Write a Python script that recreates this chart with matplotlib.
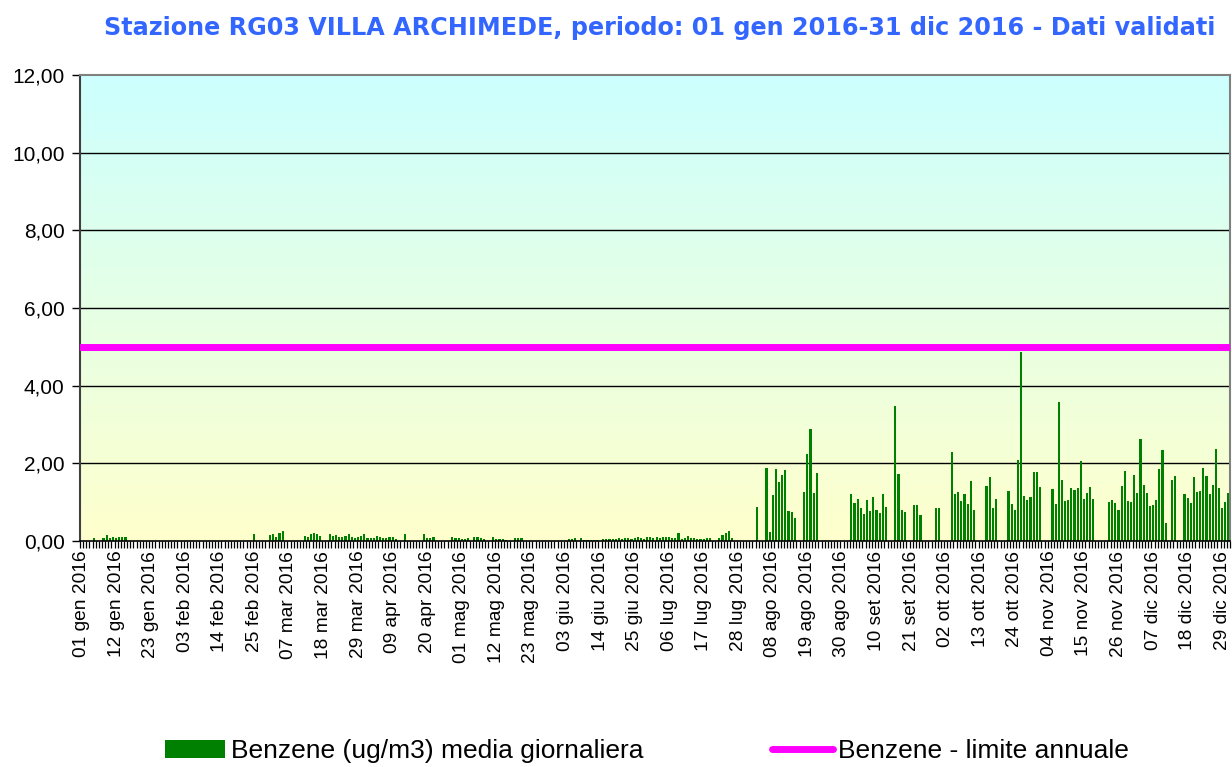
import numpy as np
import matplotlib
matplotlib.use("Agg")
import matplotlib.pyplot as plt
import pandas as pd
from matplotlib.patches import Patch
from matplotlib.lines import Line2D

N = None  # giorno senza dato

# Benzene (ug/m3) media giornaliera, 2016, un valore per giorno
gen = [N, N, N, N, 0.08, N, N, 0.08, 0.15, 0.08, 0.10, 0.08, 0.10, 0.10, 0.10,
       N, N, N, N, N, N, N, N, N, N, N, N, N, N, N, N]
feb = [N]*24 + [0.18, N, N, N, N]
mar = [0.15, 0.18, 0.10, 0.21, 0.26, N, N, N, N, N, N,
       0.13, 0.10, 0.18, 0.21, 0.18, 0.13, N, N,
       0.18, 0.13, 0.15, 0.10, 0.10, 0.13, 0.18, 0.10, 0.08, 0.10, 0.13, 0.18]
apr = [0.08, 0.08, 0.08, 0.13, 0.10, 0.08, 0.08, 0.10, 0.10, 0.05, N, N,
       0.18, N, N, N, N, N, 0.18, 0.08, 0.08, 0.10, N, N, N, N, N,
       0.10, 0.08, 0.08]
mag = [0.05, 0.05, 0.08, N, 0.10, 0.10, 0.08, 0.05, N, N,
       0.10, 0.05, 0.05, 0.05, 0.03, N, N, 0.08, 0.08, 0.08] + [N]*11
giu = [N, N, N, 0.05, 0.05, 0.08, N, 0.08, 0.03, 0.03, 0.03, 0.02, 0.03, N,
       0.05, 0.05, 0.05, 0.05, 0.05, 0.08, 0.05, 0.08, 0.08, 0.05, 0.08,
       0.10, 0.08, 0.05, 0.10, 0.10]
lug = [0.08, 0.10, 0.08, 0.10, 0.10, 0.10, 0.08, 0.08, 0.21, 0.05, 0.08,
       0.13, 0.08, 0.08, 0.05, 0.05, 0.05, 0.08, 0.08, N, N,
       0.08, 0.15, 0.21, 0.26, 0.08, N, N, N, N, N]
ago = [N, N, 0.88, N, N, 1.88, 0.23, 1.18, 1.85, 1.52, 1.70, 1.83, 0.77,
       0.75, 0.60, N, N, 1.26, 2.24, 2.88, 1.24, 1.75] + [N]*9
set_ = [N, 1.21, 0.98, 1.08, 0.85, 0.70, 1.06, 0.77, 1.13, 0.80, 0.72, 1.21,
        0.88, N, N, 3.48, 1.73, 0.80, 0.75, N, N, 0.93, 0.93, 0.67,
        N, N, N, N, 0.85, 0.85]
ott = [N, N, N, 2.29, 1.21, 1.26, 1.03, 1.21, 0.95, 1.55, 0.80, N, N, N,
       1.42, 1.65, 0.85, 1.08, N, N, N, 1.29, 0.95, 0.80, 2.09, 4.87,
       1.16, 1.06, 1.13, 1.78, 1.78]
nov = [1.39, N, N, N, 1.34, 0.95, 3.58, 1.57, 1.03, 1.06, 1.36, 1.31, 1.36,
       2.06, 1.08, 1.24, 1.39, 1.08, N, N, N, N,
       1.00, 1.06, 0.98, 0.80, 1.42, 1.80, 1.03, 1.00]
dic = [1.70, 1.24, 2.63, 1.44, 1.24, 0.90, 0.93, 1.06, 1.85, 2.34, 0.46, N,
       1.57, 1.67, N, N, 1.21, 1.11, 0.98, 1.65, 1.26, 1.29, 1.88, 1.67,
       1.21, 1.44, 2.37, 1.36, 0.85, 1.00, 1.24]

limite_annuale = 5.0
mesi = ["gen", "feb", "mar", "apr", "mag", "giu", "lug", "ago", "set", "ott", "nov", "dic"]
yticks = [0, 2, 4, 6, 8, 10, 12]

values = np.array(gen+feb+mar+apr+mag+giu+lug+ago+set_+ott+nov+dic, dtype=float)
days = pd.date_range("2016-01-01", "2016-12-31")
x = np.arange(len(days))

fig = plt.figure(figsize=(12.32, 7.67), dpi=100)
ax = fig.add_axes([80/1232, 1-541/767, 1150/1232, 466/767])

# sfondo sfumato: azzurro in alto, giallo chiaro in basso
top = np.array([204, 255, 255])/255
bot = np.array([255, 255, 204])/255
t = np.linspace(0, 1, 256)[:, None]
grad = top*(1-t) + bot*t
ax.imshow(grad[:, None, :], extent=(-0.5, len(x)-0.5, 0, 12), aspect="auto", zorder=0)

for yv in yticks[1:-1]:
  ax.axhline(yv, color="black", lw=1, zorder=1)

ax.bar(x, values, width=0.68, color="#008000", zorder=2)
ax.axhline(limite_annuale, color="#FF00FF", lw=5, zorder=3)

ax.set_xlim(-0.5, len(x)-0.5)
ax.set_ylim(0, 12)

ax.set_yticks(yticks)
ax.set_yticklabels([("%.2f" % v).replace(".", ",") for v in yticks],
                   fontsize=15, family="Liberation Sans")
ax.tick_params(axis="y", length=6, width=1, pad=5)

major = x[::11]
ax.set_xticks(major)
ax.set_xticklabels(["%02d %s %d" % (days[i].day, mesi[days[i].month-1], days[i].year) for i in major],
                   rotation=90, fontsize=13.8, family="Liberation Sans")
ax.set_xticks(np.arange(-0.5, len(x), 1), minor=True)
ax.tick_params(axis="x", which="major", length=0, pad=7)
ax.tick_params(axis="x", which="minor", length=5, width=0.9)

ax.spines["left"].set_color("#404040")
ax.spines["left"].set_linewidth(1.5)
ax.spines["bottom"].set_color("black")
ax.spines["bottom"].set_linewidth(1.2)
ax.spines["top"].set_color("#808080")
ax.spines["top"].set_linewidth(1.5)
ax.spines["right"].set_color("#808080")
ax.spines["right"].set_linewidth(1.5)

fig.text(660/1232, 1-28/767,
         "Stazione RG03 VILLA ARCHIMEDE, periodo: 01 gen 2016-31 dic 2016 - Dati validati",
         ha="center", va="center", fontsize=17.2, fontweight="bold", color="#3366FF",
         family="DejaVu Sans")

handles = [Patch(facecolor="#008000", edgecolor="none"),
           Line2D([], [], color="#FF00FF", lw=5, solid_capstyle="round")]
fig.legend(handles, ["Benzene (ug/m3) media giornaliera", "Benzene - limite annuale"],
           loc="center", bbox_to_anchor=(647/1232, 1-751/767), ncol=2, frameon=False,
           prop={"family": "Liberation Sans", "size": 19}, handlelength=2.3,
           handletextpad=0.2, columnspacing=4.9)

fig.savefig("out.png", dpi=100)
